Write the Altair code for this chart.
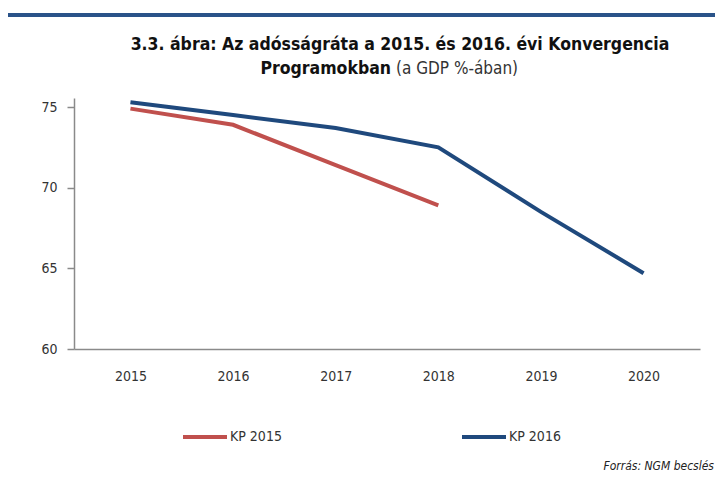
import altair as alt
import pandas as pd

years = ["2015", "2016", "2017", "2018", "2019", "2020"]
kp2015 = [74.9, 73.9, 71.4, 68.9, None, None]
kp2016 = [75.3, 74.5, 73.7, 72.5, 68.5, 64.7]
series_names = ["KP 2015", "KP 2016"]
series_colors = ["#C0504D", "#1F497D"]
y_ticks = [60, 65, 70, 75]

title_line1 = "3.3. ábra: Az adósságráta a 2015. és 2016. évi Konvergencia"
title_line2_bold = "Programokban"
title_line2_normal = "(a GDP %-ában)"
source_text = "Forrás: NGM  becslés"

FONT = "DejaVu Sans Condensed, sans-serif"

rows = []
for name, vals in zip(series_names, [kp2015, kp2016]):
    for yr, v in zip(years, vals):
        if v is not None:
            rows.append({"year": yr, "value": v, "series": name})
df = pd.DataFrame(rows)

lines = alt.Chart(df).mark_line(strokeWidth=4).encode(
    x=alt.X("year:N", scale=alt.Scale(type="point", padding=0.55, domain=years),
            axis=alt.Axis(title=None, labelAngle=0, ticks=False, labelPadding=20,
                          labelFontSize=14, labelColor="#333333", domainColor="#8a8a8a",
                          domainWidth=1.5, labelFont=FONT)),
    y=alt.Y("value:Q", scale=alt.Scale(domain=[60, 75.56], nice=False, zero=False),
            axis=alt.Axis(title=None, values=y_ticks, tickSize=7, tickColor="#8a8a8a",
                          domainColor="#8a8a8a", domainWidth=1.5, tickWidth=1.5,
                          labelPadding=10, labelFontSize=14, labelColor="#333333",
                          grid=False, labelFont=FONT)),
    color=alt.Color("series:N", scale=alt.Scale(domain=series_names, range=series_colors),
                    legend=alt.Legend(title=None, orient="none", legendX=107, legendY=315,
                                      direction="horizontal", symbolType="stroke",
                                      symbolSize=1936, symbolStrokeWidth=4,
                                      labelFontSize=14, labelFont=FONT, labelColor="#333333",
                                      labelOffset=1, columnPadding=172)),
)

one = pd.DataFrame({"k": [0]})

top_bar = alt.Chart(one).mark_rule(color="#2A5389", strokeWidth=4).encode(
    x=alt.value(-66), x2=alt.value(650), y=alt.value(-83)
)

t1 = alt.Chart(one).mark_text(text=title_line1, font=FONT, fontSize=17.5, fontWeight="bold",
                              align="center", baseline="middle", color="#111111").encode(
    x=alt.value(326), y=alt.value(-53)
)
t2a = alt.Chart(one).mark_text(text=title_line2_bold, font=FONT, fontSize=17.5, fontWeight="bold",
                               align="right", baseline="middle", color="#111111").encode(
    x=alt.value(317), y=alt.value(-29)
)
t2b = alt.Chart(one).mark_text(text=title_line2_normal, font=FONT, fontSize=17, fontWeight="normal",
                               align="left", baseline="middle", color="#333333").encode(
    x=alt.value(322), y=alt.value(-29)
)
src = alt.Chart(one).mark_text(text=source_text, font=FONT, fontSize=12, fontStyle="italic",
                               align="right", baseline="middle", color="#222222").encode(
    x=alt.value(640), y=alt.value(368)
)

chart = alt.layer(top_bar, t1, t2a, t2b, lines, src).properties(
    width=626, height=251,
    autosize=alt.AutoSizeParams(type="none"),
    padding={"left": 66, "top": 90, "right": 15, "bottom": 126},
).configure(font=FONT).configure_view(strokeWidth=0, stroke=None)

chart.save("out.html", embed_options={"renderer": "svg", "actions": False})
